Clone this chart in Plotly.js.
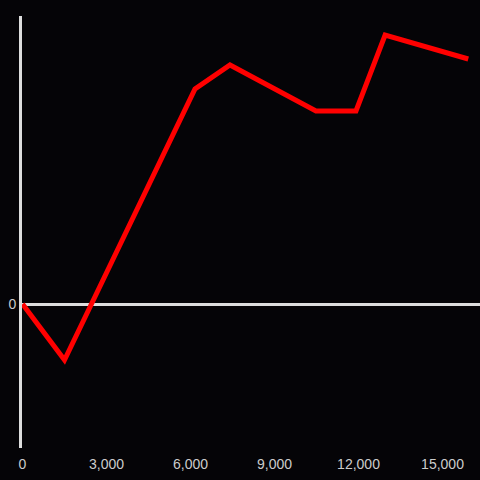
<!DOCTYPE html>
<html><head><meta charset="utf-8">
<script src="https://cdn.plot.ly/plotly-3.0.1.min.js"></script>
<style>html,body{margin:0;padding:0;background:#050407;}</style>
</head><body>
<div id="chart" style="width:480px;height:480px;"></div>
<script>
const xValues = [0, 1500, 6160, 7410, 10480, 11910, 12950, 15920];
const yValues = [0, -56, 215, 239, 193, 193, 269, 245];
const xTicks = [0, 3000, 6000, 9000, 12000, 15000];
const xTickLabels = ["0", "3,000", "6,000", "9,000", "12,000", "15,000"];
const yTicks = [0];
const yTickLabels = ["0"];

Plotly.newPlot("chart", [{
  x: xValues, y: yValues, type: "scatter", mode: "lines",
  line: {color: "#ff0000", width: 5}
}], {
  width: 480, height: 480,
  paper_bgcolor: "#050407", plot_bgcolor: "#050407",
  margin: {l: 22, r: 0, t: 16, b: 32},
  showlegend: false,
  font: {family: "Liberation Sans, Arial, sans-serif", size: 14, color: "#cccccc"},
  xaxis: {range: [-18, 16339], tickvals: xTicks, ticktext: xTickLabels,
    showgrid: false, zeroline: false, showline: false,
    ticks: "outside", ticklen: 3, tickcolor: "rgba(0,0,0,0)"},
  yaxis: {range: [-144, 288], tickvals: yTicks, ticktext: yTickLabels,
    showgrid: false, zeroline: true, zerolinecolor: "#dddddd", zerolinewidth: 3,
    showline: true, linecolor: "#dddddd", linewidth: 3, ticks: ""}
}, {displayModeBar: false, staticPlot: true});
</script>
</body></html>
